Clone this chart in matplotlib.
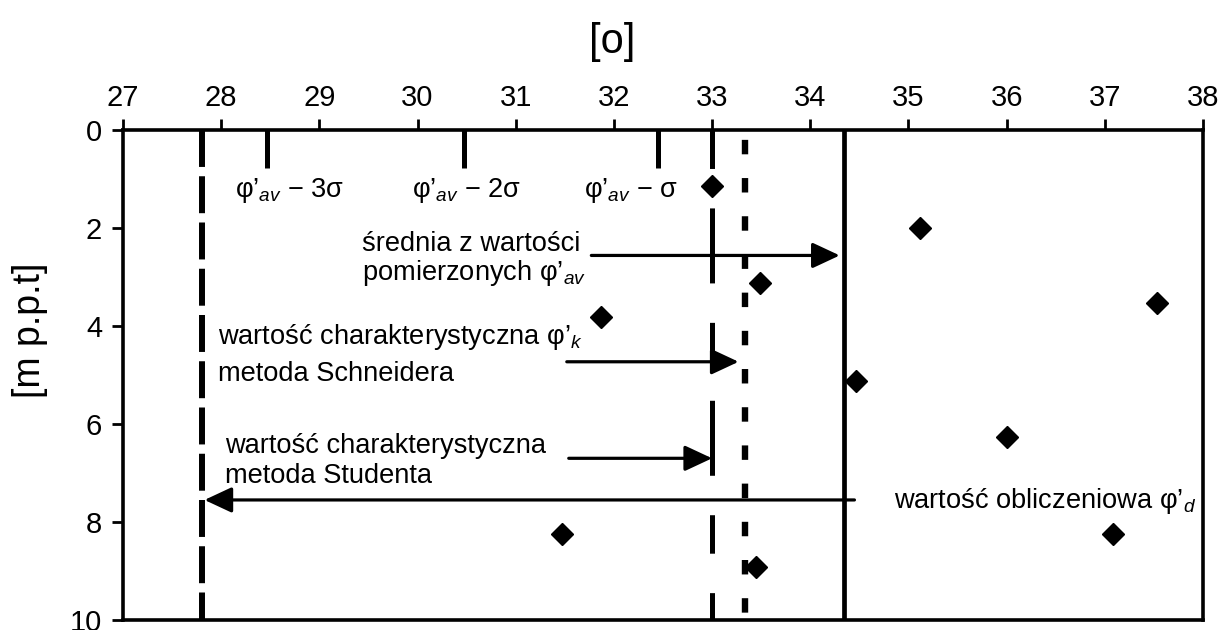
import matplotlib.pyplot as plt

plt.rcParams['font.family'] = ['Liberation Sans', 'DejaVu Sans']
plt.rcParams['mathtext.fontset'] = 'custom'
plt.rcParams['mathtext.rm'] = 'Liberation Sans'
plt.rcParams['mathtext.it'] = 'Liberation Sans:italic'
plt.rcParams['lines.scale_dashes'] = False

# measured friction angles [deg] vs depth [m p.p.t]
phi_pts = [33.0, 35.12, 33.49, 37.53, 31.87, 34.47, 36.0, 31.47, 37.08, 33.45]
depth_pts = [1.15, 2.0, 3.12, 3.53, 3.81, 5.13, 6.26, 8.24, 8.24, 8.92]

# characteristic / design values
phi_av = 34.34
phi_k_schneider = 33.34
phi_k_student = 33.0
phi_d = 27.8
sigma_ticks = [28.47, 30.47, 32.45]
sigma_tick_len = 0.78
sigma_labels = ["φ’$_{av}$ − 3σ", "φ’$_{av}$ − 2σ", "φ’$_{av}$ − σ"]
sigma_label_x = [28.70, 30.50, 32.17]
sigma_label_y = 1.37

# arrows: start, end, depth
arrow_from = [31.77, 31.52, 31.54, 34.45]
arrow_to = [34.30, 33.27, 33.0, 27.83]
arrow_depth = [2.56, 4.73, 6.70, 7.55]

# annotation texts (left x, baseline depth)
notes = ["średnia z wartości", "pomierzonych φ’$_{av}$",
         "wartość charakterystyczna φ’$_{k}$", "metoda Schneidera",
         "wartość charakterystyczna", "metoda Studenta",
         "wartość obliczeniowa φ’$_{d}$"]
notes_x = [29.43, 29.43, 27.97, 27.97, 28.04, 28.04, 34.85]
notes_y = [2.47, 3.07, 4.37, 5.13, 6.60, 7.20, 7.71]

xticks = list(range(27, 39))
yticks = [0, 2, 4, 6, 8, 10]

fig = plt.figure(figsize=(12.23, 6.3), dpi=100)
ax = fig.add_axes([123/1223, 1 - 620/630, 1080/1223, 490/630])

ax.set_xlim(27, 38)
ax.set_ylim(10, 0)

# vertical reference lines
ax.plot([phi_d, phi_d], [0, 10], color='black', lw=4.3, linestyle=(0, (26.6, 6.7)))
ax.plot([phi_k_student, phi_k_student], [0, 10], color='black', lw=3.6,
        linestyle=(0, (27.7, 28.4, 54.0, 28.4)))
ax.plot([phi_k_schneider, phi_k_schneider], [0, 10], color='black', lw=4.6,
        linestyle=(20.4, (10.4, 17.1)))
ax.plot([phi_av, phi_av], [0, 10], color='black', lw=3.4)
for s in sigma_ticks:
    ax.plot([s, s], [0, sigma_tick_len], color='black', lw=3.6, solid_capstyle='butt')

ax.plot(phi_pts, depth_pts, linestyle='none', marker='D', ms=11, color='black')

for x0, x1, y in zip(arrow_from, arrow_to, arrow_depth):
    ax.annotate('', xy=(x1, y), xytext=(x0, y),
                arrowprops=dict(arrowstyle='-|>,head_length=0.6,head_width=0.28',
                                mutation_scale=28, lw=2.3, color='black',
                                shrinkA=0, shrinkB=0))

for lab, x in zip(sigma_labels, sigma_label_x):
    ax.text(x, sigma_label_y, lab, ha='center', va='baseline', fontsize=19.5)

for t, x, y in zip(notes, notes_x, notes_y):
    ax.text(x, y, t, ha='left', va='baseline', fontsize=19.6)

ax.xaxis.tick_top()
ax.set_xticks(xticks)
ax.set_yticks(yticks)
ax.tick_params(axis='both', labelsize=21, width=2, length=8, direction='out', color='black')
ax.tick_params(axis='x', pad=5)
ax.tick_params(axis='y', pad=7)
for sp in ax.spines.values():
    sp.set_linewidth(2.6)
    sp.set_color('black')

fig.text(612/1223, 1 - 42/630, '[o]', ha='center', va='center', fontsize=30)
fig.text(30/1223, 1 - 330/630, '[m p.p.t]', ha='center', va='center',
         rotation=90, fontsize=27)

fig.savefig('out.png', dpi=100)
